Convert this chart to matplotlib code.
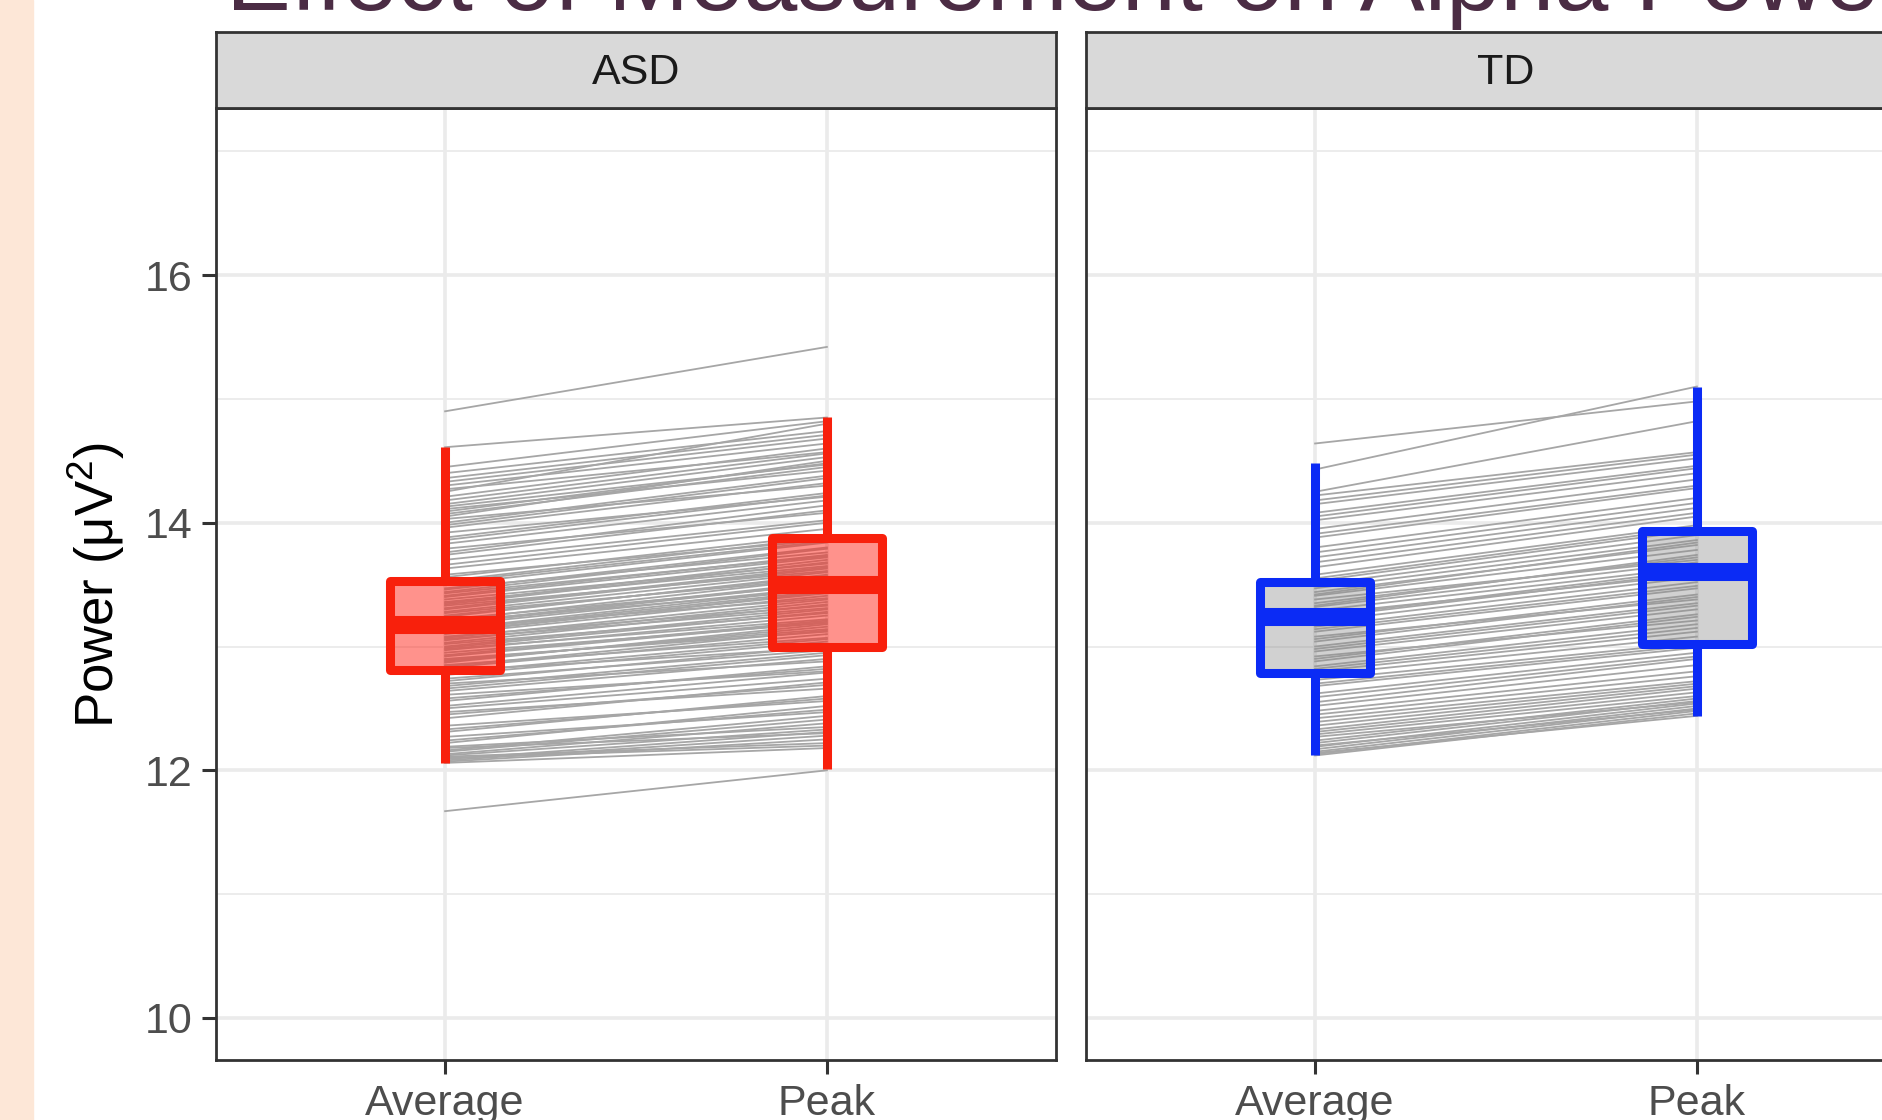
import matplotlib
matplotlib.use("Agg")
import matplotlib.pyplot as plt
from matplotlib.patches import Rectangle

plt.rcParams['font.family'] = ['Liberation Sans', 'DejaVu Sans']
plt.rcParams['mathtext.default'] = 'regular'

# facets and measurement levels
groups = ['ASD', 'TD']
measures = ['Average', 'Peak']

# per-subject alpha power (uV^2)
asd_average = [11.67, 12.06, 12.07, 12.09, 12.11, 12.13, 12.16, 12.19, 12.22, 12.27,
               12.31, 12.36, 12.42, 12.47, 12.50, 12.52, 12.56, 12.61, 12.64, 12.66,
               12.70, 12.74, 12.77, 12.80, 12.83, 12.85, 12.88, 12.89, 12.90, 12.93,
               12.95, 12.97, 12.98, 13.00, 13.02, 13.05, 13.06, 13.08, 13.10, 13.12,
               13.13, 13.15, 13.17, 13.19, 13.20, 13.22, 13.24, 13.27, 13.28, 13.30,
               13.33, 13.35, 13.36, 13.38, 13.41, 13.43, 13.44, 13.47, 13.50, 13.53,
               13.56, 13.58, 13.63, 13.70, 13.74, 13.79, 13.83, 13.88, 13.92, 13.96,
               14.00, 14.03, 14.05, 14.07, 14.11, 14.13, 14.15, 14.21, 14.25, 14.27,
               14.33, 14.40, 14.45, 14.61, 14.90,
               12.08, 12.10, 12.12, 12.15, 12.18, 12.24, 12.33, 12.45, 12.58, 12.68,
               12.72, 12.79, 12.84, 12.87, 12.92, 12.99, 13.03, 13.07, 13.11, 13.14,
               13.18, 13.21, 13.25, 13.31, 13.34, 13.40, 13.46, 13.52, 13.66, 13.76,
               13.86, 13.98, 14.09, 14.18, 14.30, 14.36]
asd_peak = [12.00, 12.18, 12.25, 12.31, 12.22, 12.38, 12.44, 12.35, 12.52, 12.47,
            12.60, 12.56, 12.71, 12.66, 12.74, 12.79, 12.84, 12.80, 12.90, 12.93,
            12.88, 12.97, 13.04, 12.99, 13.10, 13.07, 13.16, 13.14, 13.12, 13.21,
            13.19, 13.25, 13.22, 13.30, 13.27, 13.36, 13.31, 13.33, 13.41, 13.43,
            13.45, 13.39, 13.48, 13.52, 13.46, 13.50, 13.58, 13.55, 13.60, 13.63,
            13.61, 13.70, 13.65, 13.67, 13.74, 13.73, 13.79, 13.76, 13.84, 13.88,
            13.90, 13.86, 13.95, 14.02, 14.10, 14.08, 14.18, 14.24, 14.21, 14.32,
            14.38, 14.30, 14.50, 14.45, 14.42, 14.47, 14.53, 14.60, 14.80, 14.57,
            14.68, 14.74, 14.82, 14.85, 15.42,
            12.28, 12.20, 12.33, 12.41, 12.30, 12.49, 12.58, 12.69, 12.82, 12.95,
            13.00, 13.06, 13.13, 13.18, 13.20, 13.28, 13.34, 13.38, 13.44, 13.47,
            13.51, 13.55, 13.57, 13.64, 13.68, 13.72, 13.80, 13.85, 14.00, 14.14,
            14.22, 14.36, 14.48, 14.56, 14.64, 14.71]

td_average = [12.12, 12.14, 12.17, 12.20, 12.24, 12.27, 12.31, 12.36, 12.42, 12.48,
              12.55, 12.62, 12.68, 12.73, 12.77, 12.80, 12.84, 12.88, 12.92, 12.96,
              13.00, 13.04, 13.08, 13.12, 13.16, 13.20, 13.23, 13.26, 13.29, 13.32,
              13.35, 13.38, 13.41, 13.44, 13.47, 13.50, 13.53, 13.58, 13.64, 13.72,
              13.80, 13.88, 13.95, 14.02, 14.08, 14.15, 14.22, 14.43, 14.64,
              12.13, 12.15, 12.19, 12.22, 12.29, 12.33, 12.39, 12.45, 12.52, 12.59,
              12.70, 12.82, 12.90, 12.98, 13.06, 13.14, 13.24, 13.33, 13.42, 13.55,
              13.68, 13.76, 13.91, 14.05, 14.18, 14.25]
td_peak = [12.46, 12.44, 12.52, 12.49, 12.58, 12.55, 12.63, 12.68, 12.72, 12.80,
           12.90, 12.95, 12.99, 13.03, 13.08, 13.12, 13.18, 13.24, 13.21, 13.30,
           13.35, 13.40, 13.38, 13.47, 13.52, 13.56, 13.60, 13.58, 13.64, 13.68,
           13.72, 13.70, 13.78, 13.82, 13.86, 13.90, 13.94, 13.98, 14.05, 14.12,
           14.20, 14.28, 14.35, 14.40, 14.46, 14.52, 14.57, 15.10, 14.98,
           12.48, 12.50, 12.54, 12.56, 12.60, 12.66, 12.70, 12.76, 12.85, 12.92,
           13.01, 13.15, 13.26, 13.33, 13.42, 13.49, 13.62, 13.74, 13.84, 13.96,
           14.08, 14.16, 14.30, 14.44, 14.55, 14.82]

# box summaries: [Average, Peak]
asd_q1 = [12.81, 13.00]
asd_med = [13.17, 13.50]
asd_q3 = [13.53, 13.88]
asd_lo = [12.06, 12.01]
asd_hi = [14.61, 14.85]
td_q1 = [12.79, 13.02]
td_med = [13.24, 13.60]
td_q3 = [13.52, 13.93]
td_lo = [12.12, 12.44]
td_hi = [14.48, 15.10]

W, H = 1882, 1120
fig = plt.figure(figsize=(W / 100, H / 100), dpi=100)
fig.patch.set_facecolor('white')

# peach side band of the slide
fig.patches.append(Rectangle((0, 0), 33 / W, 1, transform=fig.transFigure,
                             color='#FDE7D7', zorder=0))

fig.text(226 / W, 1 - 10 / H, 'Effect of Measurement on Alpha Power',
         fontsize=70, color='#4B2C44', ha='left', va='baseline')

panel_left = [216 / W, 1086 / W]
panel_w = 840 / W
panel_bottom = 1 - 1060 / H
panel_h = 952 / H
strip_h = 76 / H

series = [
    (asd_average, asd_peak, asd_q1, asd_med, asd_q3, asd_lo, asd_hi,
     '#F8200C', (1.0, 0.15, 0.10, 0.5)),
    (td_average, td_peak, td_q1, td_med, td_q3, td_lo, td_hi,
     '#0B2BF5', (0.55, 0.55, 0.55, 0.4)),
]

for i, (name, s) in enumerate(zip(groups, series)):
    avg, peak, q1, med, q3, lo, hi, edge, fill = s
    ax = fig.add_axes([panel_left[i], panel_bottom, panel_w, panel_h])
    ax.set_facecolor('white')
    for a, p in zip(avg, peak):
        ax.plot([1, 2], [a, p], color='#A6A6A6', lw=1.3, zorder=2)

    stats = []
    for j in range(2):
        stats.append(dict(med=med[j], q1=q1[j], q3=q3[j], whislo=lo[j],
                          whishi=hi[j], label=measures[j]))
    ax.bxp(stats, positions=[1, 2], widths=0.29, showfliers=False,
           showcaps=False, patch_artist=True, zorder=3,
           boxprops=dict(facecolor=fill, edgecolor=edge, linewidth=6.5,
                         joinstyle='round'),
           whiskerprops=dict(color=edge, linewidth=6.5, solid_capstyle='butt'),
           medianprops=dict(color=edge, linewidth=13, solid_capstyle='butt'))

    ax.set_xlim(0.4, 2.6)
    ax.set_ylim(9.66, 17.35)
    ax.set_xticks([1, 2])
    ax.set_xticklabels(measures)
    ax.set_yticks([10, 12, 14, 16])
    ax.set_yticks([11, 13, 15, 17], minor=True)
    ax.set_axisbelow(True)
    ax.grid(which='major', color='#EBEBEB', lw=2.6)
    ax.grid(which='minor', axis='y', color='#EBEBEB', lw=1.3)
    ax.tick_params(which='major', length=10, width=2.2, color='#333333',
                   labelsize=31, labelcolor='#4D4D4D', pad=7)
    ax.tick_params(which='minor', length=0)
    if i > 0:
        ax.tick_params(axis='y', left=False, labelleft=False)
    for sp in ax.spines.values():
        sp.set_color('#333333')
        sp.set_linewidth(2)

    sax = fig.add_axes([panel_left[i], panel_bottom + panel_h, panel_w, strip_h])
    sax.set_facecolor('#D9D9D9')
    sax.set_xticks([])
    sax.set_yticks([])
    for sp in sax.spines.values():
        sp.set_color('#333333')
        sp.set_linewidth(2)
    sax.text(0.5, 0.46, name, transform=sax.transAxes, ha='center', va='center',
             fontsize=31, color='#1A1A1A')

fig.text(96 / W, 0.478, 'Power (μV$^2$)', rotation=90, ha='center', va='center',
         fontsize=38, color='black')

fig.savefig('out.png', dpi=100)
